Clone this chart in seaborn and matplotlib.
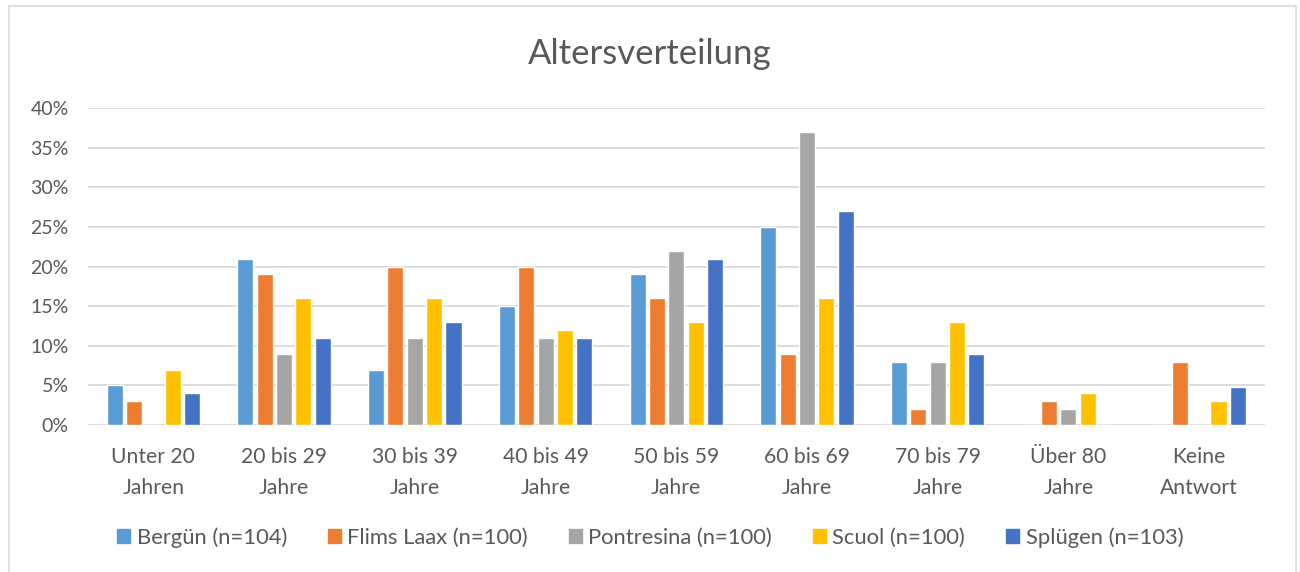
import matplotlib.pyplot as plt
import matplotlib.patches as mpatches
import seaborn as sns
import pandas as pd
from matplotlib.ticker import PercentFormatter

age_groups = ["Unter 20\nJahren", "20 bis 29\nJahre", "30 bis 39\nJahre", "40 bis 49\nJahre",
              "50 bis 59\nJahre", "60 bis 69\nJahre", "70 bis 79\nJahre", "Über 80\nJahre",
              "Keine\nAntwort"]
series = ["Bergün (n=104)", "Flims Laax (n=100)", "Pontresina (n=100)", "Scuol (n=100)", "Splügen (n=103)"]

berguen = [5, 21, 7, 15, 19, 25, 8, 0, 0]
flims_laax = [3, 19, 20, 20, 16, 9, 2, 3, 8]
pontresina = [0, 9, 11, 11, 22, 37, 8, 2, 0]
scuol = [7, 16, 16, 12, 13, 16, 13, 4, 3]
spluegen = [4, 11, 13, 11, 21, 27, 9, 0, 4.85]

colors = ["#5B9BD5", "#ED7D31", "#A5A5A5", "#FFC000", "#4472C4"]

rows = []
for name, vals in zip(series, [berguen, flims_laax, pontresina, scuol, spluegen]):
    for g, v in zip(age_groups, vals):
        rows.append({"Gruppe": g, "Ort": name, "Anteil": v})
df = pd.DataFrame(rows)

sns.set_style("white")
plt.rcParams["font.family"] = ["Lato", "DejaVu Sans"]
text_col = "#595959"

fig = plt.figure(figsize=(13, 5.72), dpi=100)
ax = fig.add_axes([0.0677, 0.257, 0.905, 0.554])

sns.barplot(data=df, x="Gruppe", y="Anteil", hue="Ort", order=age_groups, hue_order=series,
            palette=colors, width=0.74, gap=0.17, saturation=1, ax=ax, legend=False, zorder=3)

ax.set_ylim(0, 40)
ax.set_yticks(range(0, 41, 5))
ax.yaxis.set_major_formatter(PercentFormatter(decimals=0))
ax.grid(axis="y", color="#D9D9D9", linewidth=1.3, zorder=0)
ax.set_axisbelow(True)
for s in ax.spines.values():
    s.set_visible(False)
ax.tick_params(axis="both", length=0, labelcolor=text_col)
ax.tick_params(axis="y", labelsize=14, pad=14)
ax.tick_params(axis="x", labelsize=15.2, pad=16)
for lbl in ax.get_xticklabels():
    lbl.set_linespacing(1.7)
ax.set_xlabel("")
ax.set_ylabel("")
ax.set_xlim(-0.5, len(age_groups) - 0.5)

fig.text(0.5, 0.905, "Altersverteilung", ha="center", va="center", fontsize=25, color=text_col)

handles = [mpatches.Patch(color=c, label=s) for c, s in zip(colors, series)]
fig.legend(handles=handles, loc="center", bbox_to_anchor=(0.5, 0.06), ncol=5, frameon=False,
           fontsize=15.8, labelcolor=text_col, handlelength=0.6, handleheight=0.6,
           handletextpad=0.3, columnspacing=1.85)

fig.patches.append(mpatches.Rectangle((0.007, -0.01), 0.99, 1.0, transform=fig.transFigure,
                                      fill=False, edgecolor="#D9D9D9", linewidth=1.2))

fig.savefig("out.png", dpi=100)
plt.close(fig)
